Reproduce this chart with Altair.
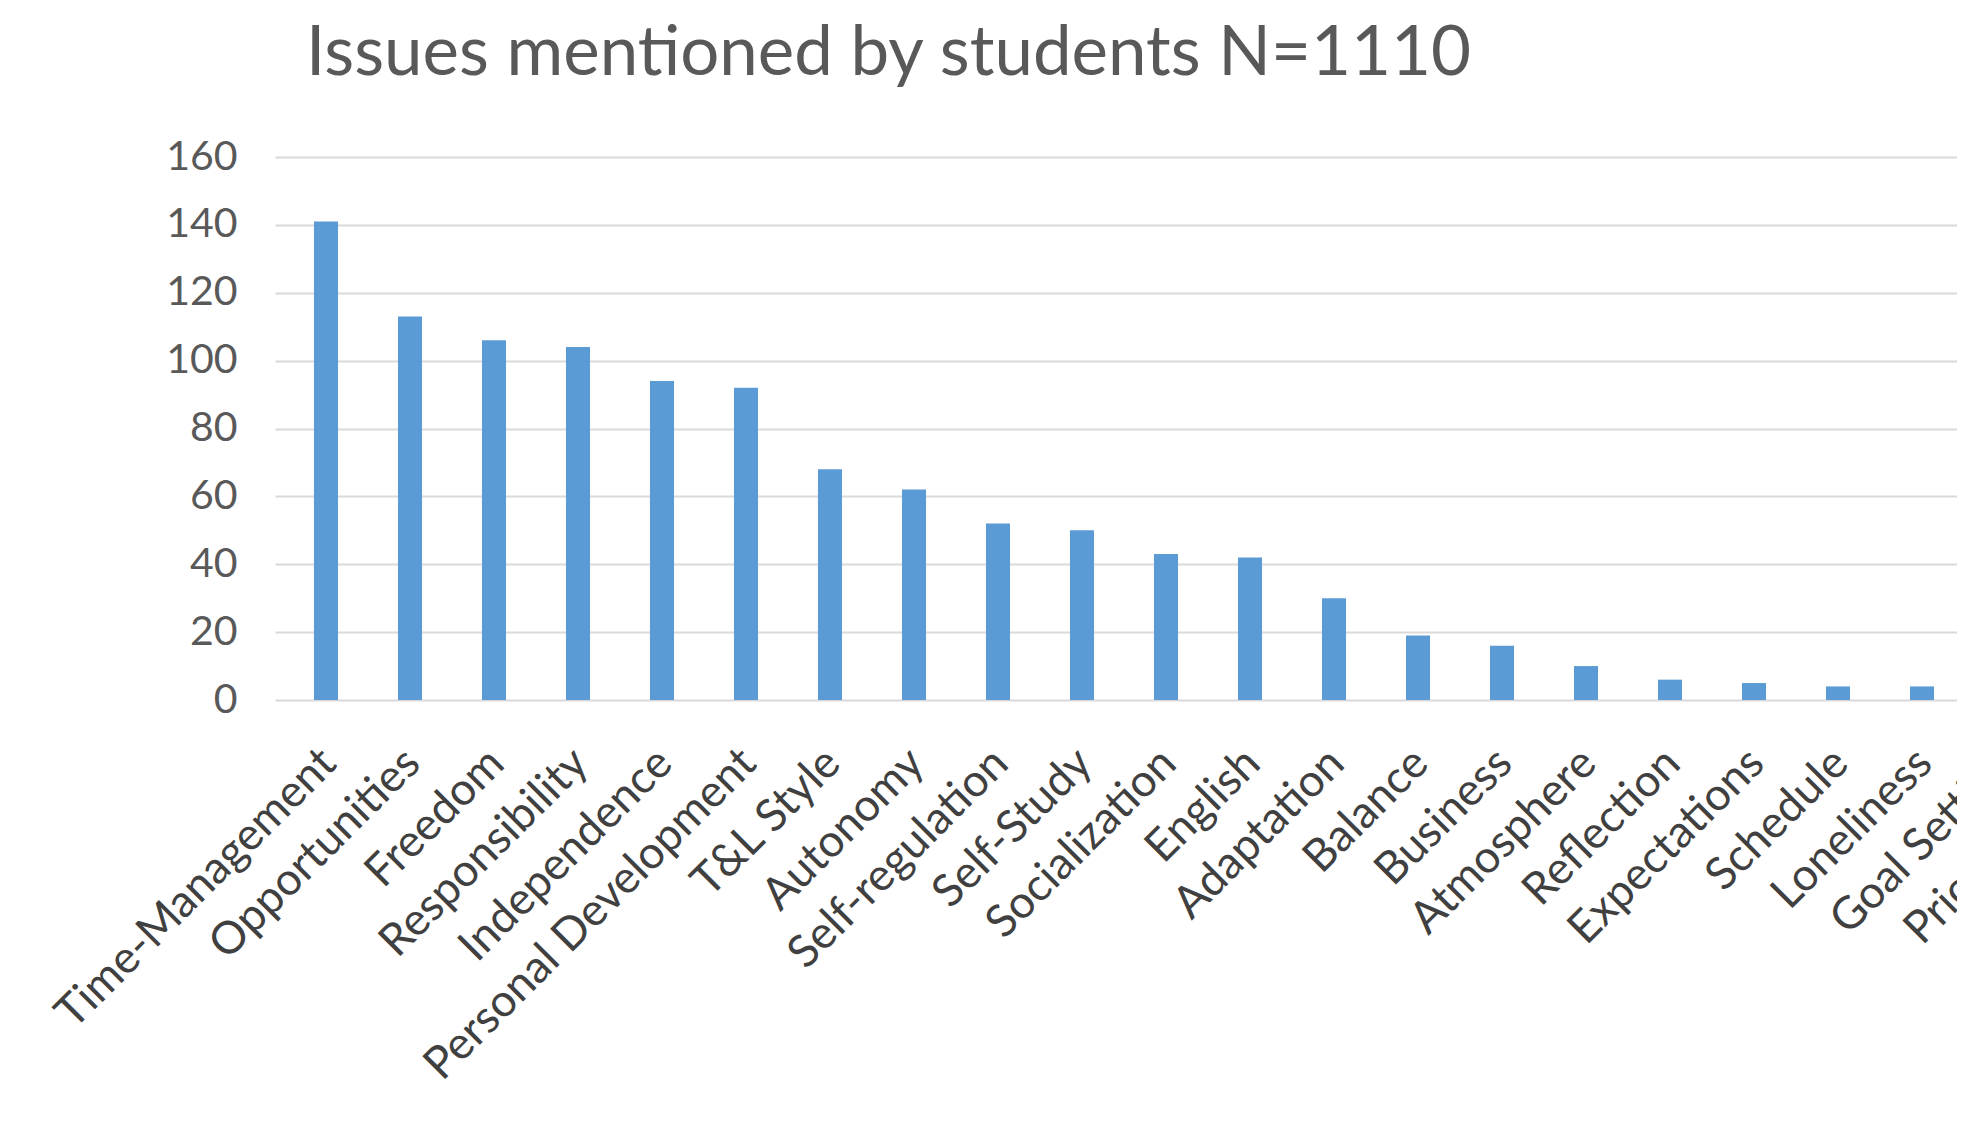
import altair as alt
import pandas as pd

categories = ["Time-Management", "Opportunities", "Freedom", "Responsibility", "Independence",
              "Personal Development", "T&L Style", "Autonomy", "Self-regulation", "Self-Study",
              "Socialization", "English", "Adaptation", "Balance", "Business", "Atmosphere",
              "Reflection", "Expectations", "Schedule", "Loneliness", "Goal Setting", "Prioritization"]
counts = [141, 113, 106, 104, 94, 92, 68, 62, 52, 50, 43, 42, 30, 19, 16, 10, 6, 5, 4, 4, 3, 3]
y_ticks = [0, 20, 40, 60, 80, 100, 120, 140, 160]
title_text = "Issues mentioned by students N=1110"

df = pd.DataFrame({"issue": categories, "count": counts})

chart = alt.Chart(df).mark_bar(color="#5b9bd5").encode(
    x=alt.X("issue:N", sort=categories, title=None,
            scale=alt.Scale(paddingInner=0.714, paddingOuter=0.464, range=[0, 1866]),
            axis=alt.Axis(labelAngle=-45, labelFontSize=45, labelFont="Lato",
                          labelColor="#404040", ticks=False, domain=False,
                          labelPadding=40, labelOffset=-13, labelOverlap=False,
                          labelLimit=1000, grid=False)),
    y=alt.Y("count:Q", title=None, scale=alt.Scale(domain=[0, 160], nice=False),
            axis=alt.Axis(values=y_ticks, labelFontSize=41, labelFont="Lato",
                          labelColor="#595959", ticks=False, domain=False,
                          labelPadding=38, gridColor="#d9d9d9", gridWidth=2)),
).properties(
    width=1682,
    height=543,
    title=alt.TitleParams(title_text, anchor="start", frame="group", dx=31, fontSize=69,
                          font="Lato", fontWeight="normal", color="#595959", offset=47),
    padding={"left": 267, "top": 149, "right": 0, "bottom": 400},
    autosize=alt.AutoSizeParams(type="none"),
    background="white",
).configure_view(stroke=None)

chart.save("out.html", embed_options={"renderer": "svg", "actions": False})
